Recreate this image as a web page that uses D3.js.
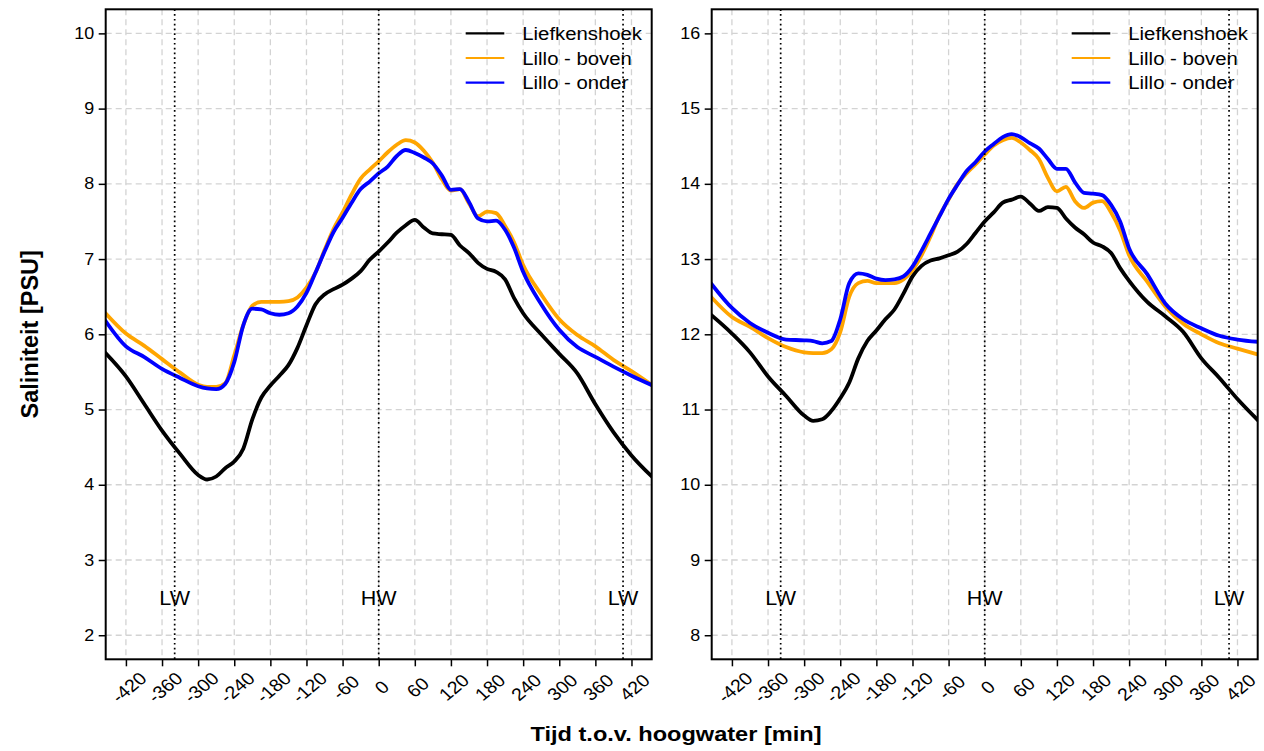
<!DOCTYPE html>
<html>
<head>
<meta charset="utf-8">
<script src="https://cdn.jsdelivr.net/npm/d3@7"></script>
<style>
    body { margin: 0; background: #ffffff; }
    svg { display: block; font-family: "Liberation Sans", Arial, sans-serif; }
</style>
</head>
<body>
<svg id="chart" width="1264" height="751"></svg>
<script>
// time relative to high water [min]
const minutes = [-455, -420, -390, -360, -330, -300, -285, -270, -255, -240, -225, -210, -195, -180,
    -165, -150, -135, -120, -105, -90, -75, -60, -45, -30, -15, 0, 15, 30, 45, 60, 75, 90, 105, 120,
    135, 150, 165, 180, 195, 210, 225, 240, 270, 300, 330, 360, 390, 420, 455];

// left panel
const liefkenshoekLeft = [5.76, 5.44, 5.08, 4.72, 4.41, 4.13, 4.07, 4.11, 4.22, 4.31, 4.48, 4.87, 5.16, 5.32,
    5.45, 5.59, 5.82, 6.12, 6.40, 6.53, 6.60, 6.66, 6.74, 6.84, 6.99, 7.10, 7.22, 7.35, 7.45, 7.52, 7.42, 7.34, 7.33, 7.32,
    7.18, 7.08, 6.95, 6.87, 6.83, 6.73, 6.48, 6.28, 6.00, 5.74, 5.48, 5.07, 4.70, 4.39, 4.10];
const lilloBovenLeft = [6.29, 6.01, 5.85, 5.67, 5.49, 5.33, 5.30, 5.30, 5.35, 5.72, 6.12, 6.38, 6.43, 6.43,
    6.43, 6.44, 6.49, 6.62, 6.82, 7.12, 7.40, 7.62, 7.86, 8.07, 8.19, 8.30, 8.42, 8.52, 8.58, 8.55, 8.44, 8.28, 8.06, 7.91,
    7.93, 7.74, 7.57, 7.63, 7.61, 7.44, 7.22, 6.92, 6.53, 6.20, 5.99, 5.84, 5.66, 5.51, 5.32];
const lilloOnderLeft = [6.19, 5.84, 5.70, 5.54, 5.42, 5.31, 5.28, 5.27, 5.34, 5.63, 6.12, 6.34, 6.33, 6.28,
    6.26, 6.28, 6.37, 6.55, 6.82, 7.10, 7.36, 7.55, 7.75, 7.93, 8.03, 8.14, 8.23, 8.37, 8.45, 8.41, 8.35, 8.27, 8.11, 7.92,
    7.93, 7.76, 7.54, 7.50, 7.51, 7.39, 7.15, 6.83, 6.40, 6.06, 5.83, 5.70, 5.57, 5.45, 5.32];

// right panel
const liefkenshoekRight = [12.26, 12.01, 11.76, 11.44, 11.18, 10.92, 10.85, 10.87, 10.98, 11.15, 11.36, 11.68, 11.91, 12.05,
    12.20, 12.33, 12.54, 12.77, 12.91, 12.98, 13.01, 13.05, 13.10, 13.20, 13.35, 13.50, 13.62, 13.75, 13.79, 13.83, 13.74, 13.64, 13.69, 13.68,
    13.54, 13.42, 13.33, 13.22, 13.17, 13.08, 12.88, 12.71, 12.43, 12.24, 12.03, 11.68, 11.42, 11.14, 10.85];
const lilloBovenRight = [12.50, 12.23, 12.10, 11.95, 11.83, 11.76, 11.75, 11.75, 11.80, 12.03, 12.50, 12.68, 12.71, 12.68,
    12.68, 12.68, 12.73, 12.85, 13.05, 13.30, 13.58, 13.79, 14.00, 14.14, 14.26, 14.39, 14.51, 14.58, 14.61, 14.55, 14.45, 14.33, 14.08, 13.90,
    13.96, 13.77, 13.68, 13.75, 13.77, 13.62, 13.38, 13.05, 12.70, 12.37, 12.14, 12.00, 11.88, 11.81, 11.73];
const lilloOnderRight = [12.68, 12.35, 12.15, 12.02, 11.93, 11.92, 11.91, 11.88, 11.91, 12.20, 12.68, 12.81, 12.79, 12.74,
    12.72, 12.73, 12.77, 12.90, 13.11, 13.34, 13.57, 13.80, 13.99, 14.17, 14.29, 14.43, 14.53, 14.62, 14.66, 14.62, 14.54, 14.47, 14.33, 14.20,
    14.20, 14.02, 13.88, 13.87, 13.85, 13.72, 13.50, 13.14, 12.80, 12.41, 12.20, 12.08, 11.98, 11.93, 11.90];

const seriesNames = ["Liefkenshoek", "Lillo - boven", "Lillo - onder"];
const seriesColours = ["#000000", "#FFA500", "#0000FF"];

const xLimits = [-420, 420];
const xTicks = [-420, -360, -300, -240, -180, -120, -60, 0, 60, 120, 180, 240, 300, 360, 420];
const yTicksLeft = [2, 3, 4, 5, 6, 7, 8, 9, 10];
const yTicksRight = [8, 9, 10, 11, 12, 13, 14, 15, 16];

const tideTimes = [-339, 0, 406];
const tideLabels = ["LW", "HW", "LW"];

const svg = d3.select("#chart");

const plot = {top: 9.3, width: 546, height: 650},
    panels = [
        {left: 105.7, yTicks: yTicksLeft, values: [liefkenshoekLeft, lilloBovenLeft, lilloOnderLeft]},
        {left: 711.7, yTicks: yTicksRight, values: [liefkenshoekRight, lilloBovenRight, lilloOnderRight]},
    ];

// the source text renders a bit wider than the font metrics
const stretch = 1.12;

// R-style axis extension of 4% at each end
const extend = lim => {
    const pad = (lim[1] - lim[0]) * 0.04;
    return [lim[0] - pad, lim[1] + pad];
};

panels.forEach((panel, i) => {
    const g = svg.append("g")
        .attr("transform", `translate(${panel.left},${plot.top})`);

    const x = d3.scaleLinear()
        .domain(extend(xLimits))
        .range([0, plot.width]);
    const y = d3.scaleLinear()
        .domain(extend([panel.yTicks[0], panel.yTicks[panel.yTicks.length - 1]]))
        .range([plot.height, 0]);

    g.append("clipPath")
        .attr("id", "clip" + i)
        .append("rect")
        .attr("width", plot.width)
        .attr("height", plot.height);

    // grid
    g.append("g")
        .selectAll("line")
        .data(xTicks)
        .enter()
        .append("line")
        .attr("x1", d => x(d))
        .attr("x2", d => x(d))
        .attr("y1", 0)
        .attr("y2", plot.height)
        .attr("stroke", "#d3d3d3")
        .attr("stroke-width", 1.3)
        .attr("stroke-dasharray", "6,4");
    g.append("g")
        .selectAll("line")
        .data(panel.yTicks)
        .enter()
        .append("line")
        .attr("x1", 0)
        .attr("x2", plot.width)
        .attr("y1", d => y(d))
        .attr("y2", d => y(d))
        .attr("stroke", "#d3d3d3")
        .attr("stroke-width", 1.3)
        .attr("stroke-dasharray", "6,4");

    const line = d3.line()
        .x((d, j) => x(minutes[j]))
        .y(d => y(d))
        .curve(d3.curveMonotoneX);

    g.append("g")
        .attr("clip-path", `url(#clip${i})`)
        .selectAll("path")
        .data(panel.values)
        .enter()
        .append("path")
        .attr("d", line)
        .attr("fill", "none")
        .attr("stroke", (d, j) => seriesColours[j])
        .attr("stroke-width", 3.8)
        .attr("stroke-linejoin", "round");

    // low / high water markers
    g.append("g")
        .selectAll("line")
        .data(tideTimes)
        .enter()
        .append("line")
        .attr("x1", d => x(d))
        .attr("x2", d => x(d))
        .attr("y1", 0)
        .attr("y2", plot.height)
        .attr("stroke", "#000")
        .attr("stroke-width", 1.7)
        .attr("stroke-dasharray", "1.7,3.1");
    g.append("g")
        .selectAll("text")
        .data(tideTimes)
        .enter()
        .append("text")
        .attr("transform", d => `translate(${x(d)},${y(panel.yTicks[0] + 0.5)}) scale(1.05,1)`)
        .attr("dy", "0.35em")
        .attr("text-anchor", "middle")
        .style("font-size", "20.5px")
        .text((d, j) => tideLabels[j]);

    // axes
    g.append("g")
        .attr("transform", `translate(0,${plot.height})`)
        .call(d3.axisBottom(x).tickValues(xTicks).tickSize(7).tickFormat(d => String(d)))
        .call(a => a.select(".domain").remove())
        .call(a => a.selectAll("line").attr("stroke-width", 1.5))
        .call(a => a.selectAll("text")
            .attr("x", null)
            .attr("y", null)
            .attr("dy", "0.35em")
            .attr("text-anchor", "middle")
            .attr("transform", `translate(2.5,28) scale(${stretch},1) rotate(-43)`)
            .attr("fill", "#000")
            .style("font-size", "17.5px")
            .style("font-family", "'Liberation Sans', Arial, sans-serif"));

    g.append("g")
        .call(d3.axisLeft(y).tickValues(panel.yTicks).tickSize(7).tickPadding(4.5).tickFormat(d => String(d)))
        .call(a => a.select(".domain").remove())
        .call(a => a.selectAll("line").attr("stroke-width", 1.5))
        .call(a => a.selectAll("text")
            .attr("x", null)
            .attr("transform", `translate(-11.5,0) scale(${stretch},1)`)
            .attr("fill", "#000")
            .style("font-size", "16px")
            .style("font-family", "'Liberation Sans', Arial, sans-serif"));

    g.append("rect")
        .attr("width", plot.width)
        .attr("height", plot.height)
        .attr("fill", "none")
        .attr("stroke", "#000")
        .attr("stroke-width", 2);

    // legend
    const legend = g.append("g")
        .attr("transform", `translate(${plot.width - 186},24)`);
    seriesNames.forEach((name, j) => {
        legend.append("line")
            .attr("x1", 0)
            .attr("x2", 38.6)
            .attr("y1", j * 24.7)
            .attr("y2", j * 24.7)
            .attr("stroke", seriesColours[j])
            .attr("stroke-width", 2.2);
        legend.append("text")
            .attr("transform", `translate(56.6,${j * 24.7}) scale(1.07,1)`)
            .attr("dy", "0.35em")
            .style("font-size", "19px")
            .text(name);
    });
});

svg.append("text")
    .attr("transform", `translate(38,${plot.top + plot.height / 2}) rotate(-90)`)
    .attr("text-anchor", "middle")
    .style("font-size", "23.5px")
    .style("font-weight", "bold")
    .text("Saliniteit [PSU]");

svg.append("text")
    .attr("transform", "translate(676,741) scale(1.15,1)")
    .attr("text-anchor", "middle")
    .style("font-size", "20.5px")
    .style("font-weight", "bold")
    .text("Tijd t.o.v. hoogwater [min]");
</script>
</body>
</html>
